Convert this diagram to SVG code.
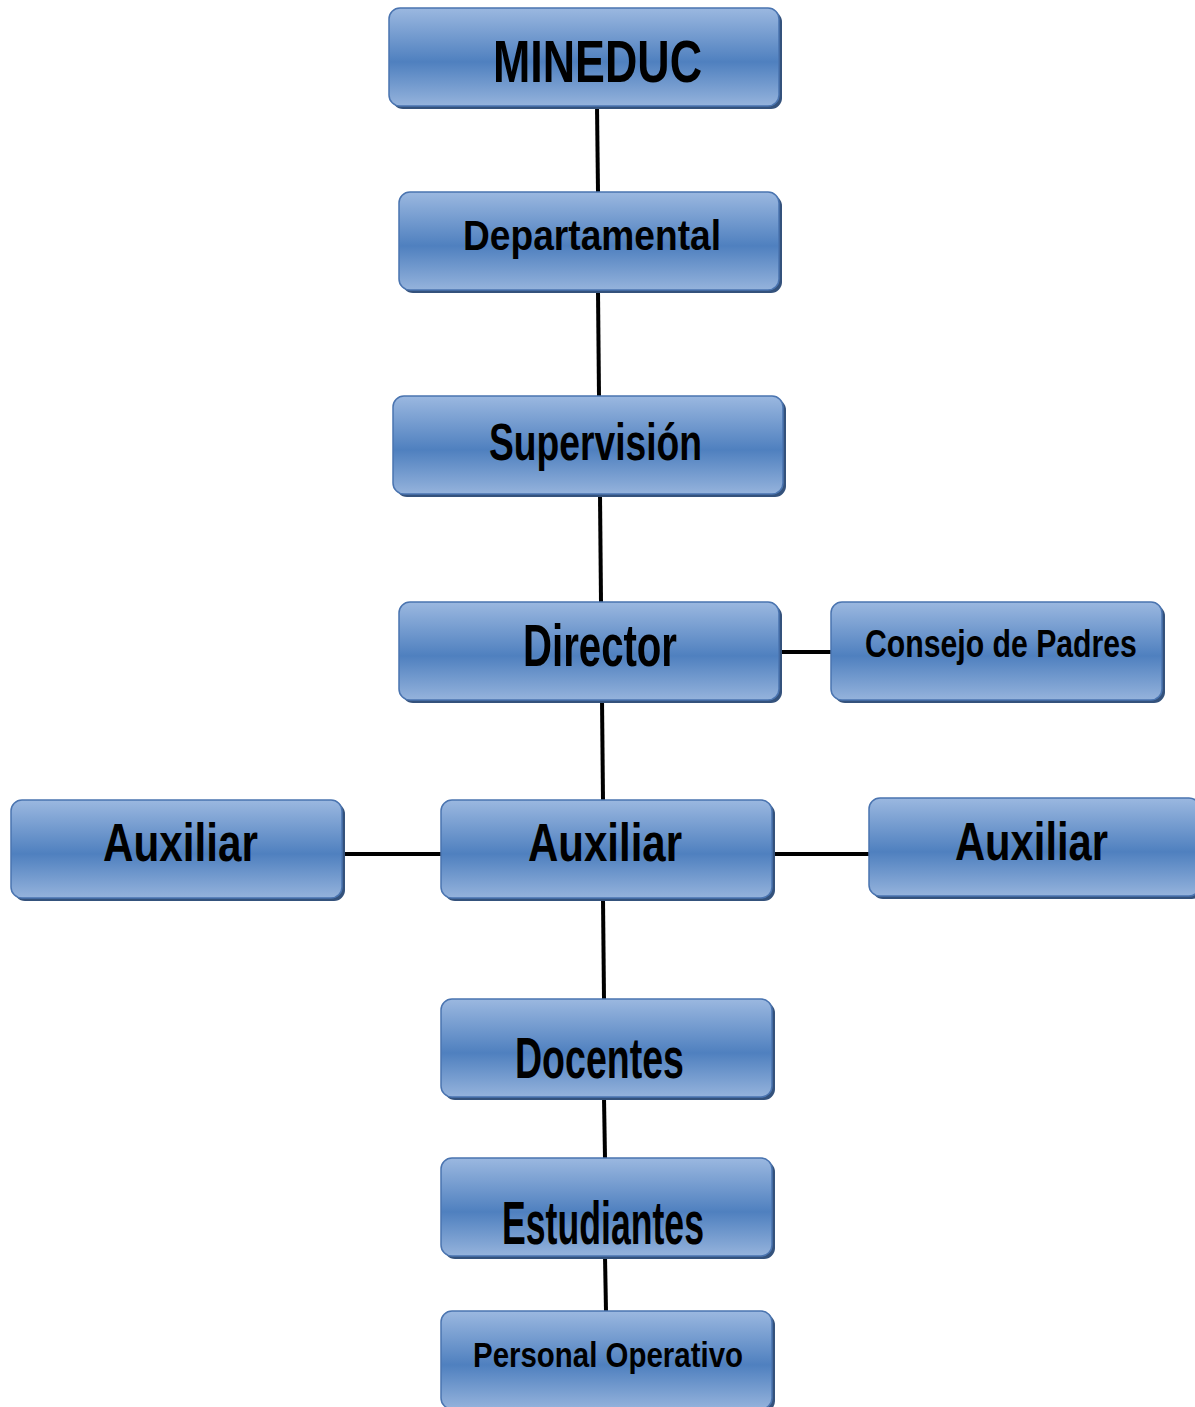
<svg xmlns="http://www.w3.org/2000/svg" width="1195" height="1407" viewBox="0 0 1195 1407">
<defs>
<linearGradient id="g" x1="0" y1="0" x2="0" y2="1">
<stop offset="0" stop-color="#9bb8e0"/>
<stop offset="0.55" stop-color="#4f80bf"/>
<stop offset="1" stop-color="#95b3dc"/>
</linearGradient>
</defs>
<style>
.sh{fill:#34527c;}
.bx{fill:url(#g);stroke:#4a74b0;stroke-width:1.5;}
.t{font-family:"Liberation Sans",Arial,sans-serif;font-weight:bold;fill:#000;text-anchor:start;}
.c{stroke:#000;stroke-width:4;fill:none;}
</style>
<rect width="1195" height="1407" fill="#fff"/>
<g id="connectors">
<line class="c" x1="597" y1="106" x2="598" y2="192"/>
<line class="c" x1="598" y1="291" x2="599" y2="396"/>
<line class="c" x1="600" y1="495" x2="601" y2="602"/>
<line class="c" x1="602" y1="700" x2="603" y2="800"/>
<line class="c" x1="779" y1="652" x2="831" y2="652"/>
<line class="c" x1="342" y1="854" x2="441" y2="854"/>
<line class="c" x1="772" y1="854" x2="869" y2="854"/>
<line class="c" x1="603" y1="899" x2="604" y2="999"/>
<line class="c" x1="604" y1="1098" x2="605" y2="1158"/>
<line class="c" x1="605" y1="1256" x2="606" y2="1311"/>
</g>
<g id="n-mineduc">
<rect class="sh" x="392" y="11" width="390" height="98" rx="11"/>
<rect class="bx" x="389" y="8" width="390" height="98" rx="11"/>
<text class="t" x="493" y="82" font-size="59" textLength="209" lengthAdjust="spacingAndGlyphs">MINEDUC</text>
</g>
<g id="n-departamental">
<rect class="sh" x="402" y="195" width="380" height="98" rx="11"/>
<rect class="bx" x="399" y="192" width="380" height="98" rx="11"/>
<text class="t" x="463" y="250" font-size="42" textLength="258" lengthAdjust="spacingAndGlyphs">Departamental</text>
</g>
<g id="n-supervision">
<rect class="sh" x="396" y="399" width="390" height="98" rx="11"/>
<rect class="bx" x="393" y="396" width="390" height="98" rx="11"/>
<text class="t" x="489" y="460" font-size="52" textLength="213" lengthAdjust="spacingAndGlyphs">Supervisión</text>
</g>
<g id="n-director">
<rect class="sh" x="402" y="605" width="380" height="98" rx="11"/>
<rect class="bx" x="399" y="602" width="380" height="98" rx="11"/>
<text class="t" x="523" y="666" font-size="59" textLength="154" lengthAdjust="spacingAndGlyphs">Director</text>
</g>
<g id="n-consejo">
<rect class="sh" x="834" y="605" width="331" height="98" rx="11"/>
<rect class="bx" x="831" y="602" width="331" height="98" rx="11"/>
<text class="t" transform="translate(865,657) scale(0.795,1)" x="0" y="0" font-size="38">Consejo de Padres</text>
</g>
<g id="n-auxiliar-left">
<rect class="sh" x="14" y="803" width="331" height="98" rx="11"/>
<rect class="bx" x="11" y="800" width="331" height="98" rx="11"/>
<text class="t" x="103" y="861" font-size="53" textLength="155" lengthAdjust="spacingAndGlyphs">Auxiliar</text>
</g>
<g id="n-auxiliar-center">
<rect class="sh" x="444" y="803" width="331" height="98" rx="11"/>
<rect class="bx" x="441" y="800" width="331" height="98" rx="11"/>
<text class="t" x="528" y="861" font-size="53" textLength="154" lengthAdjust="spacingAndGlyphs">Auxiliar</text>
</g>
<g id="n-auxiliar-right">
<rect class="sh" x="872" y="801" width="331" height="98" rx="11"/>
<rect class="bx" x="869" y="798" width="331" height="98" rx="11"/>
<text class="t" x="955" y="860" font-size="53" textLength="153" lengthAdjust="spacingAndGlyphs">Auxiliar</text>
</g>
<g id="n-docentes">
<rect class="sh" x="444" y="1002" width="331" height="98" rx="11"/>
<rect class="bx" x="441" y="999" width="331" height="98" rx="11"/>
<text class="t" x="515" y="1078" font-size="57" textLength="169" lengthAdjust="spacingAndGlyphs">Docentes</text>
</g>
<g id="n-estudiantes">
<rect class="sh" x="444" y="1161" width="331" height="98" rx="11"/>
<rect class="bx" x="441" y="1158" width="331" height="98" rx="11"/>
<text class="t" x="502" y="1244" font-size="61" textLength="202" lengthAdjust="spacingAndGlyphs">Estudiantes</text>
</g>
<g id="n-personal">
<rect class="sh" x="444" y="1314" width="331" height="98" rx="11"/>
<rect class="bx" x="441" y="1311" width="331" height="98" rx="11"/>
<text class="t" x="473" y="1367" font-size="35" textLength="270" lengthAdjust="spacingAndGlyphs">Personal Operativo</text>
</g>
</svg>
